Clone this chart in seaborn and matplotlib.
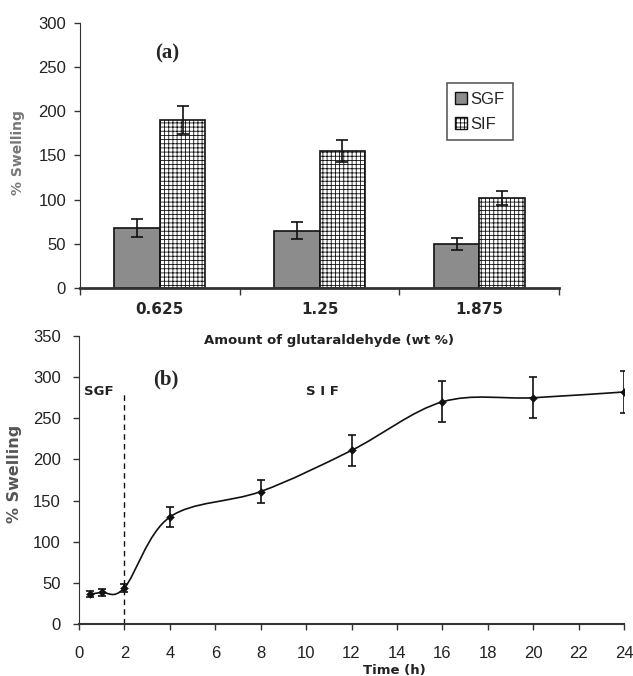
import numpy as np
import pandas as pd
import matplotlib
matplotlib.use('Agg')
import matplotlib.pyplot as plt
import seaborn as sns
from matplotlib.path import Path
from matplotlib.patches import PathPatch, Patch

# (a) swelling vs glutaraldehyde amount
conc = ['0.625', '1.25', '1.875']
sgf = [68, 65, 50]
sgf_err = [10, 10, 7]
sif = [190, 155, 102]
sif_err = [16, 12, 8]

# (b) swelling vs time
time = [0.5, 1, 2, 4, 8, 12, 16, 20, 24]
swell = [36.5, 38.5, 44, 130, 161, 211, 270, 275, 282]
swell_err = [4, 4, 5, 12, 14, 19, 25, 25, 26]
switch_time = 2
switch_top = 279

sns.set_style('ticks')
plt.rcParams['font.family'] = ['Liberation Sans', 'DejaVu Sans']
plt.rcParams['hatch.linewidth'] = 0.6
axc = '#333333'
grid_hatch = '++++'

fig = plt.figure(figsize=(6.33, 6.76), dpi=100)
ax1 = fig.add_axes([0.1264, 0.574, 0.757, 0.392])
ax2 = fig.add_axes([0.1248, 0.0769, 0.861, 0.426])
ax2.set_facecolor('none')
ax1.set_zorder(2)

# ---------- top panel ----------
df = pd.DataFrame({
    'conc': conc * 2,
    'medium': ['SGF'] * 3 + ['SIF'] * 3,
    'swell': sgf + sif,
})
sns.barplot(data=df, x='conc', y='swell', hue='medium', order=conc,
            palette=['#8c8c8c', 'white'], width=0.57, gap=0,
            errorbar=None, legend=False, ax=ax1)

for cont, err, hatch in zip(ax1.containers, [sgf_err, sif_err], [None, grid_hatch]):
    xs, hs = [], []
    for b in cont:
        b.set_edgecolor('#111111')
        b.set_linewidth(1.2)
        if hatch:
            b.set_hatch(hatch)
        xs.append(b.get_x() + b.get_width() / 2)
        hs.append(b.get_height())
    ax1.errorbar(xs, hs, yerr=err, fmt='none', ecolor='#111111',
                 elinewidth=1.2, capsize=4, capthick=1.2, zorder=4)

ax1.set_xlim(-0.5, 2.5)
ax1.set_ylim(0, 300)
ax1.set_yticks(range(0, 301, 50))
ax1.set_xticks(range(len(conc)))
ax1.set_xticklabels(conc, fontweight='bold', fontsize=11, family='DejaVu Sans')
ax1.set_xticks([-0.5, 0.5, 1.5, 2.5], minor=True)
ax1.tick_params(axis='x', which='major', length=0, pad=10)
ax1.tick_params(axis='x', which='minor', length=5, width=1, color=axc, direction='out')
ax1.tick_params(axis='y', length=4, width=1, color=axc, labelsize=12, labelcolor='#222222', pad=6)
sns.despine(ax=ax1)
ax1.spines['left'].set_color(axc)
ax1.spines['bottom'].set_color(axc)
ax1.spines['bottom'].set_linewidth(2)
ax1.set_xlabel('Amount of glutaraldehyde (wt %)', fontsize=9.5, fontweight='bold',
               family='DejaVu Sans', color='#222222')
ax1.xaxis.set_label_coords(0.52, -0.2)
ax1.xaxis.label.set_va('center')
ax1.set_ylabel('% Swelling', fontsize=10, fontweight='bold', family='DejaVu Sans', color='#777777')
ax1.yaxis.label.set_va('center')
ax1.yaxis.set_label_coords(-0.129, 0.51)
ax1.text(0.044, 266, '(a)', fontsize=15, fontweight='bold', family='Liberation Serif',
         ha='center', va='center')

handles = [Patch(facecolor='#8c8c8c', edgecolor='#111111', label='SGF'),
           Patch(facecolor='white', edgecolor='#111111', hatch=grid_hatch, label='SIF')]
leg = ax1.legend(handles=handles, loc='upper left', bbox_to_anchor=(0.766, 0.772),
                 fancybox=False, fontsize=12, handlelength=0.7, handleheight=0.7,
                 handletextpad=0.2, borderpad=0.5, labelspacing=0.6, borderaxespad=0)
leg.get_frame().set_edgecolor('#333333')
leg.get_frame().set_linewidth(1.2)

# ---------- bottom panel ----------
pts = np.column_stack([time, swell])
ext = np.vstack([pts[0], pts, pts[-1]])
verts = [tuple(pts[0])]
codes = [Path.MOVETO]
for i in range(1, len(ext) - 2):
    p0, p1, p2, p3 = ext[i - 1], ext[i], ext[i + 1], ext[i + 2]
    c1 = p1 + (p2 - p0) / 6
    c2 = p2 - (p3 - p1) / 6
    verts += [tuple(c1), tuple(c2), tuple(p2)]
    codes += [Path.CURVE4] * 3
ax2.add_patch(PathPatch(Path(verts, codes), facecolor='none', edgecolor='#111111', lw=1.2))

ax2.errorbar(time, swell, yerr=swell_err, fmt='none', ecolor='#111111',
             elinewidth=1.2, capsize=3, capthick=1.2, zorder=3)
sns.scatterplot(x=time, y=swell, marker='D', s=16, color='#111111', edgecolor='#111111',
                ax=ax2, zorder=4)
ax2.vlines(switch_time, 0, switch_top, colors='#111111', linestyles=(0, (4, 3)), lw=1)

ax2.set_xlim(0, 24)
ax2.set_ylim(0, 350)
ax2.set_xticks(range(0, 25, 2))
ax2.set_yticks(range(0, 351, 50))
ax2.tick_params(axis='both', length=4, width=1, color=axc, labelsize=12, labelcolor='#222222')
ax2.tick_params(axis='x', pad=12)
ax2.tick_params(axis='y', pad=9)
sns.despine(ax=ax2)
ax2.spines['left'].set_color(axc)
ax2.spines['bottom'].set_color(axc)
ax2.spines['bottom'].set_linewidth(1.5)
ax2.set_xlabel('')
ax2.text(0.578, -0.16, 'Time (h)', transform=ax2.transAxes, fontsize=9.5, fontweight='bold',
         family='DejaVu Sans', ha='center', va='center', color='#222222')
ax2.set_ylabel('% Swelling', fontsize=11.5, fontweight='bold', family='DejaVu Sans', color='#555555')
ax2.yaxis.label.set_va('center')
ax2.yaxis.set_label_coords(-0.119, 0.52)
ax2.text(0.89, 283, 'SGF', fontsize=9.5, fontweight='bold', family='DejaVu Sans',
         ha='center', va='center', color='#222222')
ax2.text(10.7, 283, 'S I F', fontsize=9.5, fontweight='bold', family='DejaVu Sans',
         ha='center', va='center', color='#222222')
ax2.text(3.84, 297, '(b)', fontsize=15, fontweight='bold', family='Liberation Serif',
         ha='center', va='center')

fig.savefig('out.png', dpi=100, facecolor='white')
